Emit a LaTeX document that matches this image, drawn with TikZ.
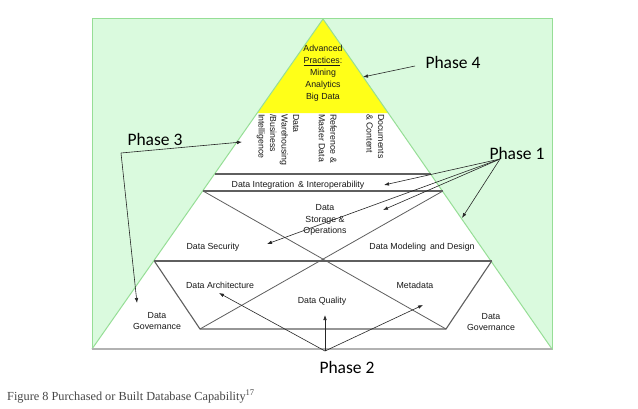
\documentclass[tikz,border=0pt]{standalone}
\usepackage{fontspec}
\setmainfont{Liberation Sans}
\newfontfamily\phasefont{Carlito}
\newfontfamily\capfont{Liberation Serif}
\usetikzlibrary{arrows.meta}
\definecolor{bgGreen}{RGB}{218,250,222}
\definecolor{edgeGreen}{RGB}{150,222,150}
\definecolor{topYellow}{RGB}{255,255,24}
\definecolor{lineGray}{RGB}{95,95,95}
\definecolor{baseGray}{RGB}{178,178,178}
\definecolor{capGray}{RGB}{70,70,70}
\tikzset{
  lbl/.style={inner sep=0pt, font=\fontsize{8.8}{11.5}\selectfont, align=center, text=black!90},
  vlbl/.style={inner sep=0pt, font=\fontsize{8.8}{11.5}\selectfont, align=left, rotate=-90, anchor=north west, text=black!90},
  phase/.style={inner sep=0pt, font=\phasefont\fontsize{17.5}{19}\selectfont},
  band/.style={draw=lineGray, line width=1.1pt},
  xline/.style={draw=lineGray, line width=0.8pt},
  arr/.style={draw=black!85, line width=0.6pt, -{Latex[length=5pt,width=3.6pt]}},
  plain/.style={draw=black!85, line width=0.6pt}
}
\begin{document}
\begin{tikzpicture}[x=1pt,y=-1pt]
\useasboundingbox (0,0) rectangle (638,408);
% background
\fill[white] (0,0) rectangle (638,408);
\filldraw[fill=bgGreen, draw=edgeGreen, line width=1pt] (92,18) rectangle (552,349);
% triangle
\coordinate (apex) at (323,19);
\coordinate (bl) at (92,349);
\coordinate (br) at (552,349);
\fill[white] (apex) -- (bl) -- (br) -- cycle;
\fill[topYellow] (apex) -- (257.5,113) -- (388.5,113) -- cycle;
\draw[edgeGreen, line width=1pt] (bl) -- (apex) -- (br);
\draw[baseGray, line width=1.8pt] (bl) -- (br);
% bands
\coordinate (i1l) at (215,174); \coordinate (i1r) at (431,174);
\coordinate (i2l) at (203.1,191); \coordinate (i2r) at (442.9,191);
\coordinate (m1l) at (154.3,261); \coordinate (m1r) at (491.7,261);
\coordinate (t2l) at (200,329); \coordinate (t2r) at (446,329);
\draw[band] (i1l) -- (i1r);
\draw[band] (i2l) -- (i2r);
\draw[band] (m1l) -- (m1r);
\draw[band] (m1l) -- (t2l) -- (t2r) -- (m1r);
\draw[xline] (i2l) -- (t2r);
\draw[xline] (i2r) -- (t2l);
% labels
\node[lbl, font=\fontsize{8.8}{11.9}\selectfont] (adv) at (323,73) {Advanced\\\underline{Practices}:\\Mining\\Analytics\\Big Data};
\node[vlbl] (dw) at (299.5,114) {Data\\Warehousing\\/Business\\Intelligence};
\node[vlbl] (rm) at (337,114) {Reference \&\\Master Data};
\node[vlbl] (dc) at (384.5,114) {Documents\\\& Content};
\node[lbl] (dii) at (298,185) {Data Integration \,\& Interoperability};
\node[lbl] (dso) at (325,220) {Data\\Storage \&\\Operations};
\node[lbl] (dsec) at (213,247) {Data Security};
\node[lbl] (dmd) at (422,247) {Data Modeling \,and Design};
\node[lbl] (darch) at (220,285) {Data Architecture};
\node[lbl] (meta) at (415,285) {Metadata};
\node[lbl] (dq) at (322,301) {Data Quality};
\node[lbl] (dgl) at (157,321) {Data\\Governance};
\node[lbl] (dgr) at (491,322) {Data\\Governance};
% phases
\node[phase] (ph4) at (453,62) {Phase 4};
\node[phase] (ph3) at (155,139) {Phase 3};
\node[phase] (ph1) at (517,153) {Phase 1};
\node[phase] (ph2) at (347,367) {Phase 2};
% caption
\node[inner sep=0pt, anchor=base west, text=capGray, font=\capfont\fontsize{12.3}{14}\selectfont] (cap) at (7,400) {Figure 8 Purchased or Built Database Capability\textsuperscript{17}};
% arrow coordinates
\coordinate (p4s) at (415,66); \coordinate (p4e) at (363,77);
\coordinate (p3j) at (121,153); \coordinate (p3a) at (242,142); \coordinate (p3b) at (137,303);
\coordinate (p1j) at (500,159);
\coordinate (p1a) at (384,185); \coordinate (p1b) at (383,210);
\coordinate (p1c) at (267,244); \coordinate (p1d) at (462,218);
\coordinate (p2j) at (325,351);
\coordinate (p2a) at (219,293); \coordinate (p2b) at (325,315); \coordinate (p2c) at (423,305);
% arrows
\draw[arr] (p4s) -- (p4e);
\draw[arr] (p3j) -- (p3a);
\draw[arr] (p3j) -- (p3b);
\draw[arr] (p1j) -- (p1a);
\draw[arr] (p1j) -- (p1b);
\draw[arr] (p1j) -- (p1c);
\draw[arr] (p1j) -- (p1d);
\draw[arr] (p2j) -- (p2a);
\draw[arr] (p2j) -- (p2b);
\draw[arr] (p2j) -- (p2c);
\end{tikzpicture}
\end{document}
